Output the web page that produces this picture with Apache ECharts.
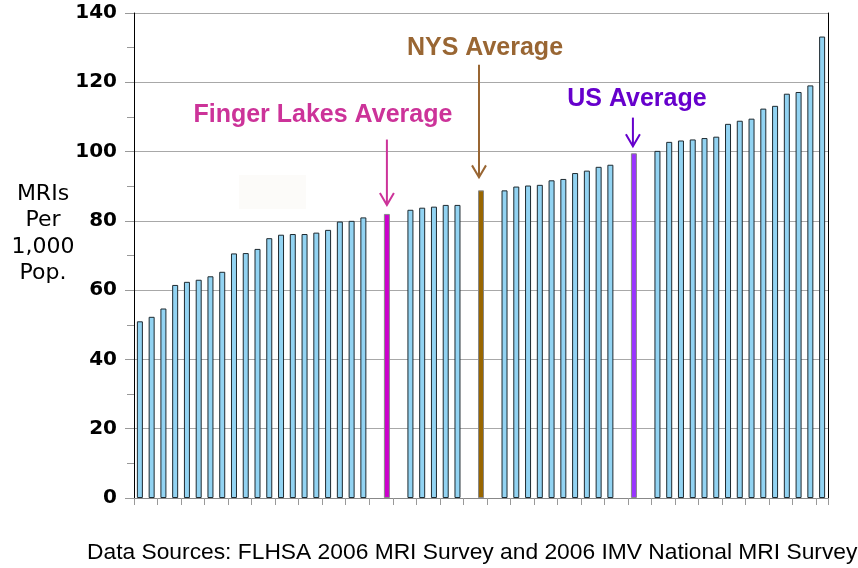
<!DOCTYPE html>
<html><head><meta charset="utf-8">
<script src="https://cdn.jsdelivr.net/npm/echarts@6/dist/echarts.min.js"></script>
<style>html,body{margin:0;padding:0;background:#fff}#c{width:858px;height:568px}</style>
</head><body><div id="c"></div>
<script>
// MRIs per 1,000 population by area, sorted ascending ('-' = empty slot / average slot)
const regionValues = [
  51.0, 52.3, 54.7, 61.5, 62.4, 63.0, 64.0, 65.3, 70.6, 70.7,
  71.9, 75.0, 76.0, 76.2, 76.2, 76.6, 77.4, 79.8, 80.0, 81.0,
  '-', '-', '-', 83.2, 83.8, 84.1, 84.6, 84.6, '-', '-',
  '-', 88.8, 89.9, 90.2, 90.4, 91.7, 92.1, 93.8, 94.5, 95.6,
  96.2, '-', '-', '-', 100.2, 102.8, 103.2, 103.5, 103.9, 104.3,
  108.0, 108.9, 109.5, 112.4, 113.2, 116.7, 117.2, 119.1, 133.2
];
const categories = regionValues.map((_, i) => String(i + 1));
const averageNames = ['Finger Lakes Average', 'NYS Average', 'US Average'];
const averageValues = [82.0, 88.8, 99.5];
const averageCategories = ['22', '30', '43'];
const yTickValues = [0, 20, 40, 60, 80, 100, 120, 140];
const axisTitle = 'MRIs\nPer\n1,000\nPop.';
const footer = 'Data Sources: FLHSA 2006 MRI Survey and 2006 IMV National MRI Survey';

// styling (not data)
const averageFills = ['#CC00CC', '#996600', '#9933FF'];
const annotationColors = ['#CC3399', '#996633', '#6600CC'];
const annotationLayout = [
  { textValue: 110.4, textDx: -64, arrowDy: 24, tipGap: 9, arrowDx: 0 },
  { textValue: 130.0, textDx: 4, arrowDy: 17, tipGap: 13, arrowDx: -2 },
  { textValue: 115.0, textDx: 3, arrowDy: 18, tipGap: 7, arrowDx: -1 }
];

const chart = echarts.init(document.getElementById('c'), null, { renderer: 'canvas' });
const averageData = categories.map(c => {
  const k = averageCategories.indexOf(c);
  return k < 0 ? '-' : { value: averageValues[k], itemStyle: { color: averageFills[k] } };
});

chart.setOption({
  animation: false,
  backgroundColor: '#ffffff',
  grid: { left: 134, right: 30, top: 13, bottom: 70, containLabel: false },
  xAxis: {
    type: 'category', data: categories, boundaryGap: true,
    axisLine: { lineStyle: { color: '#888', width: 1 } },
    axisTick: { show: true, length: 7, alignWithLabel: false, lineStyle: { color: '#999' } },
    axisLabel: { show: false },
    splitLine: { show: false }
  },
  yAxis: [{
    type: 'value', min: yTickValues[0], max: yTickValues[yTickValues.length - 1],
    interval: yTickValues[1] - yTickValues[0],
    axisLine: { show: true, lineStyle: { color: '#000', width: 1 } },
    axisTick: { show: true, length: 9, lineStyle: { color: '#999' } },
    minorTick: { show: true, splitNumber: 2, length: 7, lineStyle: { color: '#999' } },
    splitLine: { show: true, lineStyle: { color: '#a8a8a8', width: 1 } },
    axisLabel: { fontFamily: 'DejaVu Sans', fontWeight: 'bold', fontSize: 20, color: '#000', margin: 17 }
  }, {
    type: 'value', position: 'right', min: 0, max: 140,
    axisLine: { show: true, lineStyle: { color: '#000', width: 1 } },
    axisTick: { show: false }, axisLabel: { show: false }, splitLine: { show: false }
  }],
  series: [{
    name: 'Areas', type: 'bar', data: regionValues, barWidth: 6,
    itemStyle: { color: '#92D3F2', borderColor: '#1e2a30', borderWidth: 1 }
  }, {
    name: 'Averages', type: 'bar', data: averageData, barWidth: 6, barGap: '-100%',
    itemStyle: { borderColor: '#888', borderWidth: 1 }
  }]
});

const graphics = [];
averageCategories.forEach((cat, k) => {
  const L = annotationLayout[k];
  const col = annotationColors[k];
  const top = chart.convertToPixel({ gridIndex: 0 }, [cat, averageValues[k]]);
  const txt = chart.convertToPixel({ gridIndex: 0 }, [cat, L.textValue]);
  const x = top[0] + L.arrowDx;
  const tipY = top[1] - L.tipGap;
  const startY = txt[1] + L.arrowDy;
  graphics.push({ type: 'line', shape: { x1: x, y1: startY, x2: x, y2: tipY },
    style: { stroke: col, lineWidth: 2 } });
  graphics.push({ type: 'polyline', shape: { points: [[x - 7, tipY - 12], [x, tipY], [x + 7, tipY - 12]] },
    style: { stroke: col, lineWidth: 2, fill: null } });
  graphics.push({ type: 'text', x: top[0] + L.textDx, y: txt[1],
    style: { text: averageNames[k], fill: col, font: 'bold 25px "Liberation Sans", Arial, sans-serif',
      textAlign: 'center', textVerticalAlign: 'middle' } });
});
graphics.push({ type: 'rect', shape: { x: 239, y: 175, width: 67, height: 34 }, style: { fill: '#FCFBF9' }, z: 0 });
graphics.push({ type: 'text', x: 43, y: 234,
  style: { text: axisTitle, fill: '#000', font: '22px "DejaVu Sans", sans-serif', lineHeight: 26.5,
    textAlign: 'center', textVerticalAlign: 'middle' } });
graphics.push({ type: 'text', x: 87, y: 553,
  style: { text: footer, fill: '#000', font: '22.8px "Liberation Sans", Arial, sans-serif',
    textAlign: 'left', textVerticalAlign: 'middle' } });
chart.setOption({ graphic: graphics });
</script></body></html>
